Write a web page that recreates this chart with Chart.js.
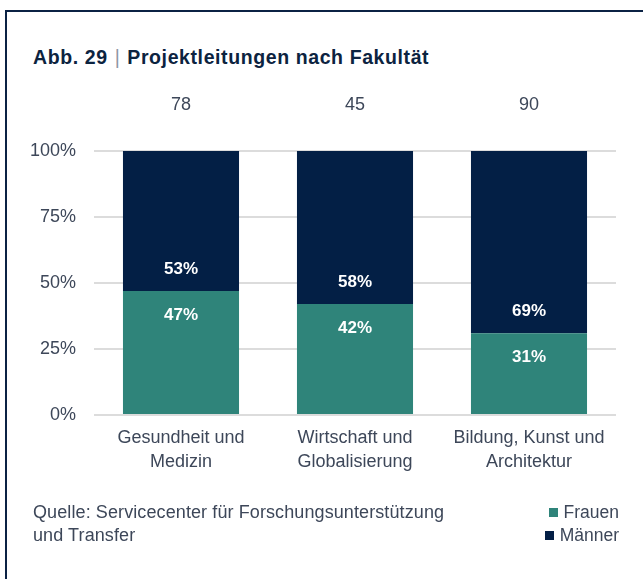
<!DOCTYPE html>
<html><head><meta charset="utf-8">
<script src="https://cdn.jsdelivr.net/npm/chart.js@4/dist/chart.umd.min.js"></script>
<style>
html,body{margin:0;padding:0;background:#fff;}
#wrap{position:relative;width:643px;height:579px;overflow:hidden;background:#fff;font-family:"Liberation Sans",Arial,sans-serif;}
#frame{position:absolute;left:5px;top:10px;right:-10px;bottom:-10px;border-left:2px solid #0b2244;border-top:2px solid #0b2244;}
#title{position:absolute;left:33px;top:46px;font-size:19.5px;font-weight:bold;color:#0c2340;white-space:nowrap;letter-spacing:0.6px;}
#title .sep{font-weight:normal;color:#8d96a3;padding:0 7px;}
canvas{position:absolute;left:0;top:0;}
#source{position:absolute;left:33px;top:501px;font-size:18px;line-height:23px;color:#3d4759;letter-spacing:0.1px;}
#legend{position:absolute;right:24px;top:501px;font-size:17.5px;line-height:23px;color:#3d4759;text-align:right;}
#legend .sw{display:inline-block;width:9px;height:9px;margin-right:6px;vertical-align:1px;}
</style></head>
<body><div id="wrap">
<div id="frame"></div>
<div id="title">Abb. 29<span class="sep">|</span>Projektleitungen nach Fakultät</div>
<canvas id="c" width="643" height="579"></canvas>
<div id="source">Quelle: Servicecenter für Forschungsunterstützung<br>und Transfer</div>
<div id="legend"></div>
</div>
<script>
const categories = [["Gesundheit und","Medizin"],["Wirtschaft und","Globalisierung"],["Bildung, Kunst und","Architektur"]];
const totals = ["78","45","90"];
const frauen = [47, 42, 31];
const maenner = [53, 58, 69];
const seriesNames = ["Frauen","Männer"];
const seriesColors = ["#2f847a","#031f45"];
const yTicks = [0,25,50,75,100];

const FONT = '"Liberation Sans", Arial, sans-serif';
const textColor = '#3d4759';

const labelPlugin = {
  id:'barLabels',
  afterDatasetsDraw(chart){
    const ctx = chart.ctx;
    ctx.save();
    ctx.font = 'bold 17px ' + FONT;
    ctx.fillStyle = '#ffffff';
    ctx.textAlign = 'center';
    ctx.textBaseline = 'middle';
    chart.data.datasets.forEach((ds, di) => {
      const meta = chart.getDatasetMeta(di);
      meta.data.forEach((bar, i) => {
        const txt = ds.data[i] + '%';
        if (di === 0) {
          ctx.fillText(txt, bar.x, bar.y + 24);
        } else {
          ctx.fillText(txt, bar.x, bar.base - 22);
        }
      });
    });
    ctx.restore();
  }
};

const chart = new Chart(document.getElementById('c'), {
  type:'bar',
  data:{
    labels: categories,
    datasets:[
      {label:seriesNames[0], data:frauen, backgroundColor:seriesColors[0], stack:'s', barPercentage:0.667, categoryPercentage:1.0},
      {label:seriesNames[1], data:maenner, backgroundColor:seriesColors[1], stack:'s', barPercentage:0.667, categoryPercentage:1.0}
    ]
  },
  options:{
    responsive:false,
    animation:false,
    layout:{padding:{left:0,right:27,top:0,bottom:0}},
    plugins:{legend:{display:false}, tooltip:{enabled:false}, title:{display:false}},
    scales:{
      x:{
        stacked:true,
        position:'bottom',
        grid:{display:false, drawTicks:false},
        border:{display:false},
        ticks:{color:textColor, font:{family:FONT, size:18, lineHeight:1.333}, padding:11, maxRotation:0, autoSkip:false},
        afterFit(s){ s.height = 164; }
      },
      x2:{
        type:'category',
        labels: totals,
        position:'top',
        grid:{display:false, drawTicks:false},
        border:{display:false},
        ticks:{color:textColor, font:{family:FONT, size:18, lineHeight:1.2}, padding:35, maxRotation:0, autoSkip:false},
        afterFit(s){ s.height = 151; }
      },
      y:{
        stacked:true,
        min:0, max:100,
        afterBuildTicks(s){ s.ticks = yTicks.map(v => ({value:v})); },
        grid:{color:'#dcdcdc', lineWidth:2, drawTicks:false},
        border:{display:false},
        ticks:{color:textColor, font:{family:FONT, size:18}, padding:18, callback:v => v + '%'},
        afterFit(s){ s.width = 94; }
      }
    }
  },
  plugins:[labelPlugin]
});

const lg = document.getElementById('legend');
lg.innerHTML = chart.data.datasets.map(d => '<div><span class="sw" style="background:'+d.backgroundColor+'"></span>'+d.label+'</div>').join('');
</script>
</body></html>
